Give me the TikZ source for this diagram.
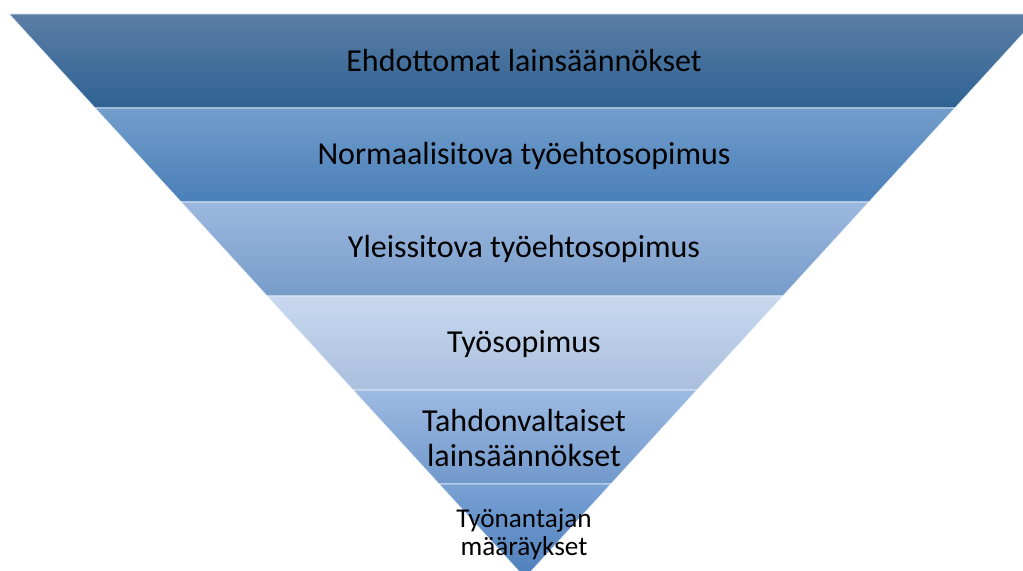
\documentclass[tikz,border=0pt]{standalone}
\usepackage{fontspec}
\setmainfont{Carlito}
\definecolor{bandAtop}{HTML}{5B7EA6}
\definecolor{bandAbot}{HTML}{2E6293}
\definecolor{bandBtop}{HTML}{729DCB}
\definecolor{bandBbot}{HTML}{4A7FB8}
\definecolor{bandCtop}{HTML}{9CB8DF}
\definecolor{bandCbot}{HTML}{779CC9}
\definecolor{bandDtop}{HTML}{C8D8EF}
\definecolor{bandDbot}{HTML}{A9BFDE}
\definecolor{bandEtop}{HTML}{9DBAE2}
\definecolor{bandEbot}{HTML}{7198CB}
\definecolor{bandFtop}{HTML}{78A1D4}
\definecolor{bandFbot}{HTML}{4E7FBB}

\begin{document}
\begin{tikzpicture}[x=0.5pt, y=-0.5pt,
    band/.style={shading=axis, draw=white!75!bandDtop, line width=0.4pt},
    lbl/.style={align=center, font=\fontsize{16}{17.5}\selectfont, inner sep=0pt},
    smalllbl/.style={align=center, font=\fontsize{13.6}{14}\selectfont, inner sep=0pt}]
    \useasboundingbox (0,0) rectangle (1023,571);
    \clip (0,0) rectangle (1023,571);
    \shade[band, top color=bandAtop, bottom color=bandAbot] (9,14) -- (1041,14) -- (955,108) -- (95,108) -- cycle;
    \shade[band, top color=bandBtop, bottom color=bandBbot] (95,108) -- (955,108) -- (869,202) -- (181,202) -- cycle;
    \shade[band, top color=bandCtop, bottom color=bandCbot] (181,202) -- (869,202) -- (783,296) -- (267,296) -- cycle;
    \shade[band, top color=bandDtop, bottom color=bandDbot] (267,296) -- (783,296) -- (697,390) -- (353,390) -- cycle;
    \shade[band, top color=bandEtop, bottom color=bandEbot] (353,390) -- (697,390) -- (611,484) -- (439,484) -- cycle;
    \shade[band, top color=bandFtop, bottom color=bandFbot] (439,484) -- (611,484) -- (525,578) -- cycle;
    \node[lbl] (ehdottomat) at (524,61) {Ehdottomat lainsäännökset};
    \node[lbl] (normaali) at (524,156) {Normaalisitova työehtosopimus};
    \node[lbl] (yleis) at (524,249) {Yleissitova työehtosopimus};
    \node[lbl] (tyosop) at (524,344) {Työsopimus};
    \node[lbl] (tahdon) at (524,438) {Tahdonvaltaiset\\lainsäännökset};
    \node[smalllbl] (tyonant) at (524,534) {Työnantajan\\määräykset};
  \end{tikzpicture}
\end{document}
